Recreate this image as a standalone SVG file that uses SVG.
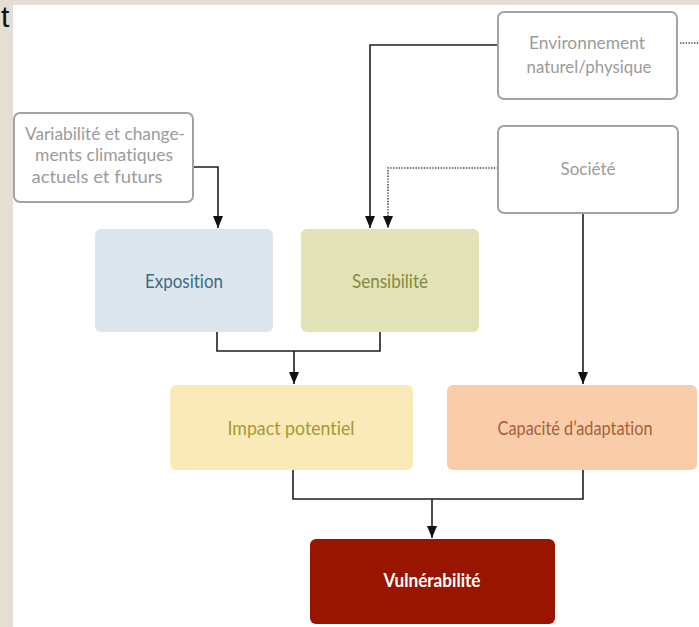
<svg xmlns="http://www.w3.org/2000/svg" width="699" height="627" viewBox="0 0 699 627">
<defs>
<style>
.bg{fill:#e4ded3}
.outline{fill:#ffffff;stroke:#a3a3a3;stroke-width:2}
.gt{fill:#9b9b9b;font-family:Lato,"Open Sans",sans-serif;font-size:18px;text-anchor:middle;font-variant-ligatures:none}
.lbl{font-family:Lato,"Open Sans",sans-serif;font-size:19px;text-anchor:middle;font-variant-ligatures:none}
.conn{fill:none;stroke:#1e1e1e;stroke-width:1.6}
.dot{fill:none;stroke:#4a4a4a;stroke-width:1.6;stroke-dasharray:1.4 1.4}
</style>
<marker id="ah" viewBox="0 0 12 10" refX="12" refY="5" markerWidth="12" markerHeight="10" markerUnits="userSpaceOnUse" orient="auto">
<path d="M0,0 L12,5 L0,10 z" fill="#111"/>
</marker>
</defs>
<rect x="0" y="0" width="699" height="627" fill="#ffffff"/>
<rect class="bg" x="0" y="0" width="699" height="5"/>
<rect class="bg" x="0" y="0" width="13" height="627"/>
<text x="1" y="27" font-family="Liberation Sans, sans-serif" font-size="30" fill="#111">t</text>

<g id="connectors">
<polyline class="conn" points="193,167 218,167 218,228" marker-end="url(#ah)"/>
<polyline class="conn" points="498,45 370,45 370,228" marker-end="url(#ah)"/>
<polyline class="dot" points="498,168 388,168 388,228" marker-end="url(#ah)"/>
<line class="dot" x1="680" y1="43" x2="699" y2="43"/>
<polyline class="conn" points="217,332 217,351 380,351 380,332"/>
<line class="conn" x1="294" y1="351" x2="294" y2="384" marker-end="url(#ah)"/>
<line class="conn" x1="583" y1="213" x2="583" y2="384" marker-end="url(#ah)"/>
<polyline class="conn" points="293,470 293,499 583,499 583,470"/>
<line class="conn" x1="432" y1="499" x2="432" y2="538" marker-end="url(#ah)"/>
</g>

<g id="variabilite">
<rect class="outline" x="14" y="113" width="179" height="89" rx="6"/>
<text class="gt" x="105" y="140" textLength="160" lengthAdjust="spacingAndGlyphs">Variabilité et change-</text>
<text class="gt" x="104" y="161" textLength="138" lengthAdjust="spacingAndGlyphs">ments climatiques</text>
<text class="gt" x="97" y="183" textLength="131" lengthAdjust="spacingAndGlyphs">actuels et futurs</text>
</g>

<g id="environnement">
<rect class="outline" x="498" y="12" width="179" height="87" rx="6"/>
<text class="gt" x="587" y="49" textLength="116" lengthAdjust="spacingAndGlyphs">Environnement</text>
<text class="gt" x="589" y="73" textLength="125" lengthAdjust="spacingAndGlyphs">naturel/physique</text>
</g>

<g id="societe">
<rect class="outline" x="498" y="126" width="180" height="87" rx="6"/>
<text class="gt" x="588" y="175" textLength="55" lengthAdjust="spacingAndGlyphs">Société</text>
</g>

<g id="exposition">
<rect x="95" y="229" width="178" height="103" rx="6" fill="#dde6ee"/>
<text class="lbl" x="184" y="288" fill="#3d6b80" textLength="78" lengthAdjust="spacingAndGlyphs">Exposition</text>
</g>

<g id="sensibilite">
<rect x="301" y="229" width="178" height="103" rx="6" fill="#e2e3b9"/>
<text class="lbl" x="390" y="288" fill="#86893f" textLength="76" lengthAdjust="spacingAndGlyphs">Sensibilité</text>
</g>

<g id="impact">
<rect x="170" y="385" width="243" height="85" rx="6" fill="#f9eab7"/>
<text class="lbl" x="291" y="435" fill="#a89838" textLength="127" lengthAdjust="spacingAndGlyphs">Impact potentiel</text>
</g>

<g id="capacite">
<rect x="447" y="385" width="250" height="85" rx="6" fill="#f9cda9"/>
<text class="lbl" x="575" y="435" fill="#a6603a" textLength="155" lengthAdjust="spacingAndGlyphs">Capacité d’adaptation</text>
</g>

<g id="vulnerabilite">
<rect x="310" y="539" width="245" height="85" rx="6" fill="#9a1500"/>
<text class="lbl" x="432" y="587" fill="#ffffff" font-weight="bold" textLength="97" lengthAdjust="spacingAndGlyphs">Vulnérabilité</text>
</g>
</svg>
